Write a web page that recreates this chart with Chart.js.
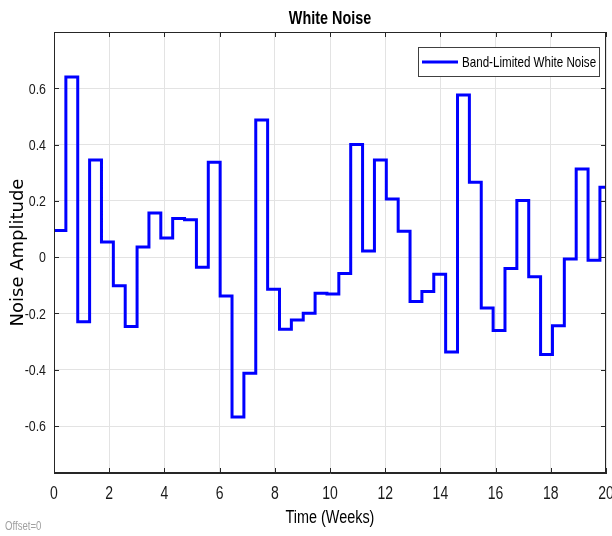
<!DOCTYPE html>
<html lang="en">
<head>
    <meta charset="UTF-8">
    <title>White Noise</title>
    <style>
        body { margin: 0; background: #fff; }
        #noiseChart { display: block; }
    </style>
</head>
<body>
    <canvas id="noiseChart" width="612" height="536"></canvas>

    <script src="https://cdn.jsdelivr.net/npm/chart.js"></script>
    <script>
        // sample time of the band-limited noise block (weeks)
        const stepTime = 0.43;
        const endTime = 20;
        const noiseValues = [
            0.095, 0.64, -0.23, 0.345, 0.054, -0.102, -0.246, 0.036, 0.157, 0.068,
            0.137, 0.133, -0.036, 0.337, -0.138, -0.568, -0.413, 0.487, -0.114, -0.256,
            -0.223, -0.199, -0.128, -0.131, -0.058, 0.40, 0.022, 0.345, 0.207, 0.092,
            -0.158, -0.122, -0.061, -0.337, 0.576, 0.266, -0.181, -0.261, -0.04, 0.201,
            -0.07, -0.346, -0.244, -0.007, 0.313, -0.011, 0.248
        ];
        const xTicks = [0, 2, 4, 6, 8, 10, 12, 14, 16, 18, 20];
        const yTicks = [-0.6, -0.4, -0.2, 0, 0.2, 0.4, 0.6];

        const points = noiseValues.map((v, i) => ({ x: +(i * stepTime).toFixed(2), y: v }));
        points.push({ x: endTime, y: noiseValues[noiseValues.length - 1] });

        const sans = '"Liberation Sans", Arial, sans-serif';

        // the original figure is squeezed sideways, so text is drawn narrower
        function narrowText(ctx, text, x, y, font, align, color) {
            ctx.save();
            ctx.font = font;
            ctx.fillStyle = color;
            ctx.textAlign = align;
            ctx.textBaseline = 'middle';
            ctx.translate(x, y);
            ctx.scale(0.8, 1);
            ctx.fillText(text, 0, 0);
            ctx.restore();
        }

        // box, inward ticks, tick labels, title, x label, legend and footer note
        const matlabLook = {
            id: 'matlabLook',
            afterDraw(chart) {
                const ctx = chart.ctx;
                const a = chart.chartArea;
                const xs = chart.scales.x, ys = chart.scales.y;
                ctx.save();
                ctx.strokeStyle = '#262626';
                ctx.lineWidth = 1;
                ctx.strokeRect(a.left + 0.5, a.top + 0.5, a.right - a.left - 1, a.bottom - a.top - 1);
                ctx.beginPath();
                xTicks.forEach(v => {
                    const px = Math.round(xs.getPixelForValue(v)) + 0.5;
                    ctx.moveTo(px, a.bottom); ctx.lineTo(px, a.bottom - 5);
                    ctx.moveTo(px, a.top); ctx.lineTo(px, a.top + 5);
                });
                yTicks.forEach(v => {
                    const py = Math.round(ys.getPixelForValue(v)) + 0.5;
                    ctx.moveTo(a.left, py); ctx.lineTo(a.left + 5, py);
                    ctx.moveTo(a.right, py); ctx.lineTo(a.right - 5, py);
                });
                ctx.stroke();

                xTicks.forEach(v => {
                    narrowText(ctx, String(v), xs.getPixelForValue(v), a.bottom + 21, '17.5px ' + sans, 'center', '#1a1a1a');
                });
                yTicks.forEach(v => {
                    narrowText(ctx, String(v), a.left - 8, ys.getPixelForValue(v) + 1, '15.5px ' + sans, 'right', '#1a1a1a');
                });

                const midX = (a.left + a.right) / 2;
                narrowText(ctx, 'White Noise', midX, 19, 'bold 18px ' + sans, 'center', '#000');
                narrowText(ctx, 'Time (Weeks)', midX, 518, '18px ' + sans, 'center', '#000');

                // legend
                const ds = chart.data.datasets[0];
                const bx = a.right - 188, by = a.top + 15, bw = 181, bh = 29;
                ctx.fillStyle = '#fff';
                ctx.fillRect(bx, by, bw, bh);
                ctx.strokeStyle = '#404040';
                ctx.lineWidth = 1;
                ctx.strokeRect(bx + 0.5, by + 0.5, bw, bh);
                ctx.strokeStyle = ds.borderColor;
                ctx.lineWidth = 3;
                ctx.beginPath();
                ctx.moveTo(bx + 4, by + bh / 2 + 0.5);
                ctx.lineTo(bx + 40, by + bh / 2 + 0.5);
                ctx.stroke();
                narrowText(ctx, ds.label, bx + 44, by + bh / 2 + 1, '14.5px ' + sans, 'left', '#000');

                narrowText(ctx, 'Offset=0', 5, 527, '12px ' + sans, 'left', '#a0a0a0');
                ctx.restore();
            }
        };

        new Chart(document.getElementById('noiseChart'), {
            type: 'line',
            data: {
                datasets: [{
                    label: 'Band-Limited White Noise',
                    data: points,
                    stepped: 'before',
                    borderColor: '#0000ff',
                    borderWidth: 3,
                    pointRadius: 0,
                    fill: false
                }]
            },
            options: {
                responsive: false,
                animation: false,
                layout: { padding: { left: 0, right: 6, top: 32, bottom: 0 } },
                plugins: {
                    legend: { display: false },
                    tooltip: { enabled: false },
                    title: { display: false }
                },
                scales: {
                    x: {
                        type: 'linear',
                        min: 0,
                        max: endTime,
                        afterBuildTicks: s => { s.ticks = xTicks.map(v => ({ value: v })); },
                        afterFit: s => { s.height = 63; s.paddingLeft = 0; s.paddingRight = 0; },
                        grid: { color: '#e3e3e3', drawTicks: false },
                        border: { color: '#262626' },
                        ticks: { display: false }
                    },
                    y: {
                        min: -0.767,
                        max: 0.8,
                        afterBuildTicks: s => { s.ticks = yTicks.map(v => ({ value: v })); },
                        afterFit: s => { s.width = 54; },
                        grid: { color: '#e3e3e3', drawTicks: false },
                        border: { color: '#262626' },
                        ticks: { display: false },
                        title: {
                            display: true,
                            text: 'Noise Amplitude',
                            color: '#000',
                            font: { family: '"DejaVu Sans", sans-serif', size: 18 },
                            padding: { top: 8, bottom: 0 }
                        }
                    }
                }
            },
            plugins: [matlabLook]
        });
    </script>
</body>
</html>
